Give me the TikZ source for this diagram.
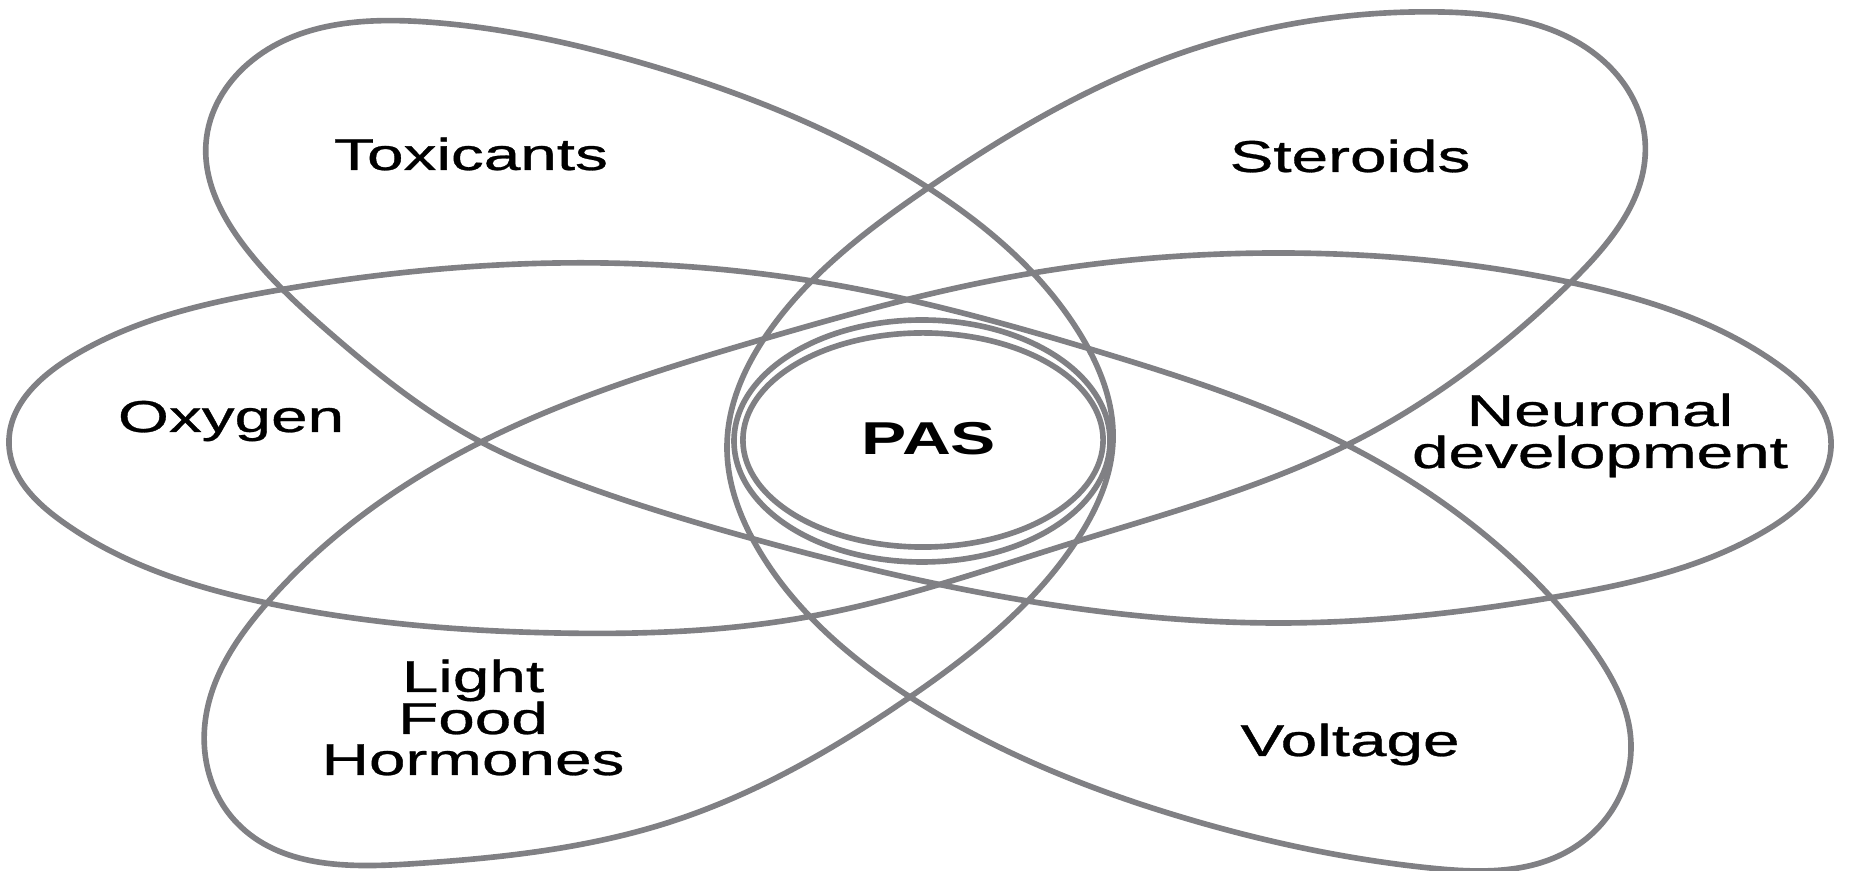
\documentclass[tikz,border=0pt]{standalone}
\usepackage{fontspec}
\setmainfont{Liberation Sans}
\newfontfamily\lblfont[FakeBold=0.6]{Liberation Sans}
\usepackage{graphicx}
\usetikzlibrary{shapes.geometric,hobby}
\definecolor{petal}{RGB}{128,128,132}
\newcommand{\wtxt}[1]{\scalebox{1.47}[1]{#1}}
\begin{document}
\begin{tikzpicture}[x=0.01cm, y=-0.01cm,
  loopline/.style={draw=petal, line width=1.6pt, line join=round},
  lbl/.style={inner sep=0pt, anchor=base, text=black, font=\lblfont\fontsize{12.7}{15}\selectfont},
  bold lbl/.style={inner sep=0pt, anchor=base, text=black, font=\fontsize{13.1}{15}\selectfont\bfseries}]
\useasboundingbox (0,0) rectangle (1855,871);
\fill[white] (0,0) rectangle (1855,871);
% loop through Oxygen, Voltage, Steroids
\draw[loopline, use Hobby shortcut, closed=true]
 (9,445) .. (70,358) .. (279,290) .. (557,263) .. (830,284) .. (1100,352) .. (1347,445)
 .. (1485,535) .. (1590,645) .. (1631,745) .. (1570,850) .. (1430,868) .. (1188,819) .. (910,697)
 .. (760,552) .. (727,445) .. (770,330) .. (925,190) .. (1170,57) .. (1441,12) .. (1600,58)
 .. (1645,140) .. (1571,282) .. (1347,445) .. (1075,542) .. (807,617) .. (557,633)
 .. (267,603) .. (60,520);
% loop through Neuronal development, Toxicants, Light/Food/Hormones
\draw[loopline, use Hobby shortcut, closed=true]
 (1831,441) .. (1770,528) .. (1561,596) .. (1283,623) .. (1010,598) .. (743,536) .. (560,477)
 .. (481,442) .. (330,333) .. (245,247) .. (206,143) .. (249,63) .. (427,22) .. (652,66)
 .. (930,189) .. (1080,334) .. (1113,441) .. (1077,540) .. (910,697) .. (670,822) .. (409,864)
 .. (237,823) .. (205,723) .. (267,603) .. (481,442) .. (760,340) .. (1027,274) .. (1283,253)
 .. (1573,283) .. (1780,366);
% central rings
\node[loopline, ellipse, minimum width=3.6cm, minimum height=2.14cm, inner sep=0pt] (ring) at (923,440) {};
\draw[loopline] (922,441) ellipse [x radius=188, y radius=121];
% labels
\node[bold lbl] (pas) at (929,455) {\wtxt{PAS}};
\node[lbl] (tox) at (471,170) {\wtxt{Toxicants}};
\node[lbl] (ster) at (1350,172) {\wtxt{Steroids}};
\node[lbl] (oxy) at (231,432) {\wtxt{Oxygen}};
\node[lbl] (neu1) at (1600,426) {\wtxt{Neuronal}};
\node[lbl] (neu2) at (1600,468) {\wtxt{development}};
\node[lbl] (lfh1) at (473,692) {\wtxt{Light}};
\node[lbl] (lfh2) at (473,734) {\wtxt{Food}};
\node[lbl] (lfh3) at (473,775) {\wtxt{Hormones}};
\node[lbl] (volt) at (1350,756) {\wtxt{Voltage}};
\end{tikzpicture}
\end{document}
